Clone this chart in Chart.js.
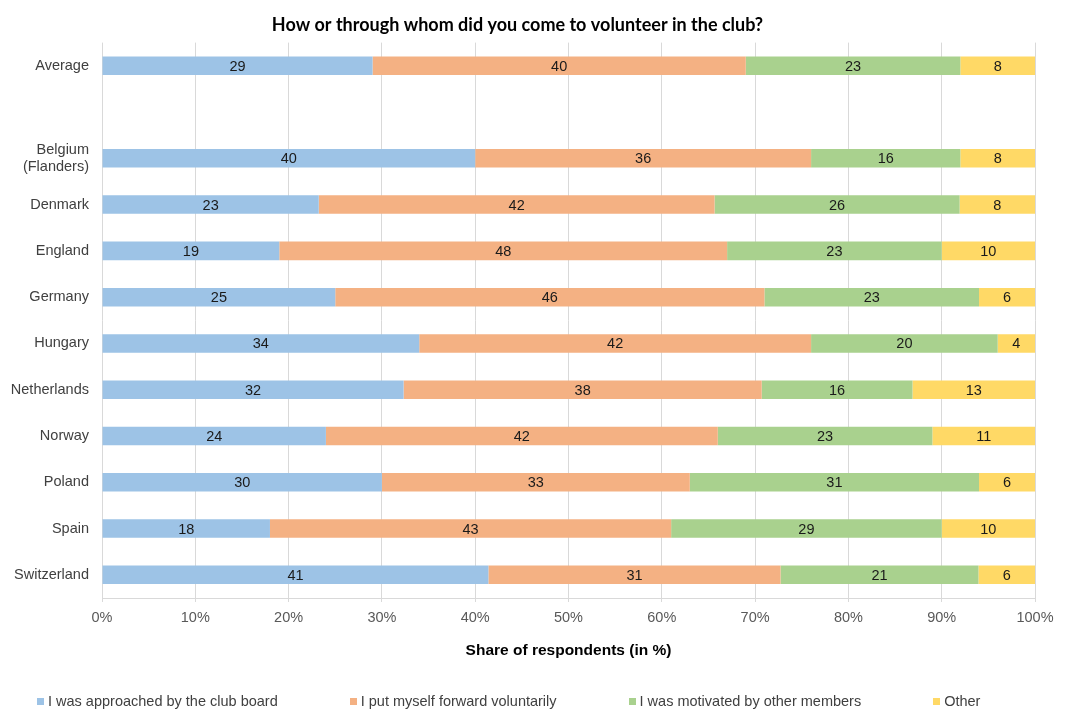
<!DOCTYPE html>
<html>
<head>
<meta charset="utf-8">
<title>How or through whom did you come to volunteer in the club?</title>
<script src="https://cdn.jsdelivr.net/npm/chart.js@4.4.1/dist/chart.umd.min.js"></script>
<style>
  body { margin: 0; background: #fff; }
  #wrap { position: relative; width: 1068px; height: 709px; }
  #legend {
    position: absolute; left: 37px; top: 693px;
    display: flex; gap: 72px;
    font: 14.5px "Liberation Sans", Arial, sans-serif; color: #404040; line-height: 17px;
  }
  #legend .item { display: flex; align-items: center; white-space: nowrap; }
  #legend .box { width: 7px; height: 7px; margin-right: 4px; }
</style>
</head>
<body>
<div id="wrap">
  <canvas id="chart" width="1068" height="709"></canvas>
  <div id="legend"></div>
</div>
<script>
// categories (empty one keeps the gap under "Average")
const categories = ['Average', '', ['Belgium', '(Flanders)'], 'Denmark', 'England', 'Germany',
  'Hungary', 'Netherlands', 'Norway', 'Poland', 'Spain', 'Switzerland'];

// shares in %, as printed on the bars
const approached = [29, null, 40, 23, 19, 25, 34, 32, 24, 30, 18, 41];
const forward    = [40, null, 36, 42, 48, 46, 42, 38, 42, 33, 43, 31];
const motivated  = [23, null, 16, 26, 23, 23, 20, 16, 23, 31, 29, 21];
const other      = [8,  null, 8,  8,  10, 6,  4,  13, 11, 6,  10, 6];

const seriesNames = ['I was approached by the club board', 'I put myself forward voluntarily',
  'I was motivated by other members', 'Other'];
const xTicks = [0, 10, 20, 30, 40, 50, 60, 70, 80, 90, 100];

const colors = ['#9DC3E6', '#F4B183', '#A9D18E', '#FFD966'];
const font = '"Liberation Sans", Arial, sans-serif';

// rows are drawn as 100% stacks, so rescale rows whose rounded values don't add to 100
const series = [approached, forward, motivated, other];
const totals = categories.map((c, i) => series.reduce((s, arr) => s + (arr[i] || 0), 0));
const toShare = arr => arr.map((v, i) => v == null ? null : v / totals[i] * 100);

// writes the value in the middle of every segment
const segmentLabels = {
  id: 'segmentLabels',
  afterDatasetsDraw(chart) {
    const ctx = chart.ctx;
    ctx.save();
    ctx.font = '14.5px ' + font;
    ctx.fillStyle = '#1a1a1a';
    ctx.textAlign = 'center';
    ctx.textBaseline = 'middle';
    chart.data.datasets.forEach((ds, i) => {
      chart.getDatasetMeta(i).data.forEach((bar, j) => {
        const v = ds.raw[j];
        if (v == null) return;
        const p = bar.getProps(['x', 'y', 'base'], true);
        ctx.fillText(String(v), (p.x + p.base) / 2, p.y + 1);
      });
    });
    ctx.restore();
  }
};

const chart = new Chart(document.getElementById('chart'), {
  type: 'bar',
  data: {
    labels: categories,
    datasets: series.map((arr, i) => ({
      label: seriesNames[i],
      data: toShare(arr),
      raw: arr,
      backgroundColor: colors[i],
      borderWidth: 0,
      barPercentage: 0.4,
      categoryPercentage: 1
    }))
  },
  options: {
    indexAxis: 'y',
    responsive: false,
    animation: false,
    layout: { padding: { left: 0, right: 33, top: 0, bottom: 49 } },
    plugins: {
      legend: { display: false },
      tooltip: { enabled: false },
      title: {
        display: true,
        text: 'How or through whom did you come to volunteer in the club?',
        color: '#000',
        font: { family: 'Lato', size: 18, weight: 'bold' },
        padding: { top: 14, bottom: 7 }
      }
    },
    scales: {
      x: {
        stacked: true,
        min: 0,
        max: 100,
        afterBuildTicks: scale => { scale.ticks = xTicks.map(v => ({ value: v })); },
        ticks: {
          callback: v => v + '%',
          color: '#595959',
          font: { family: font, size: 14.5 },
          padding: 7,
          maxRotation: 0
        },
        grid: { color: '#d9d9d9', tickLength: 4 },
        border: { display: true, color: '#d9d9d9' },
        title: {
          display: true,
          text: 'Share of respondents (in %)',
          color: '#000',
          font: { family: font, size: 15.5, weight: 'bold' },
          padding: { top: 8, bottom: 0 }
        }
      },
      y: {
        stacked: true,
        afterFit: scale => { scale.width = 102; },
        ticks: {
          color: '#404040',
          font: { family: font, size: 14.5 },
          padding: 13
        },
        grid: { display: false, drawTicks: false },
        border: { display: false }
      }
    }
  },
  plugins: [segmentLabels]
});

// legend below the axis title, built from the chart's datasets
const legendEl = document.getElementById('legend');
chart.data.datasets.forEach(ds => {
  const item = document.createElement('span');
  item.className = 'item';
  const box = document.createElement('span');
  box.className = 'box';
  box.style.background = ds.backgroundColor;
  item.appendChild(box);
  item.appendChild(document.createTextNode(ds.label));
  legendEl.appendChild(item);
});
</script>
</body>
</html>
